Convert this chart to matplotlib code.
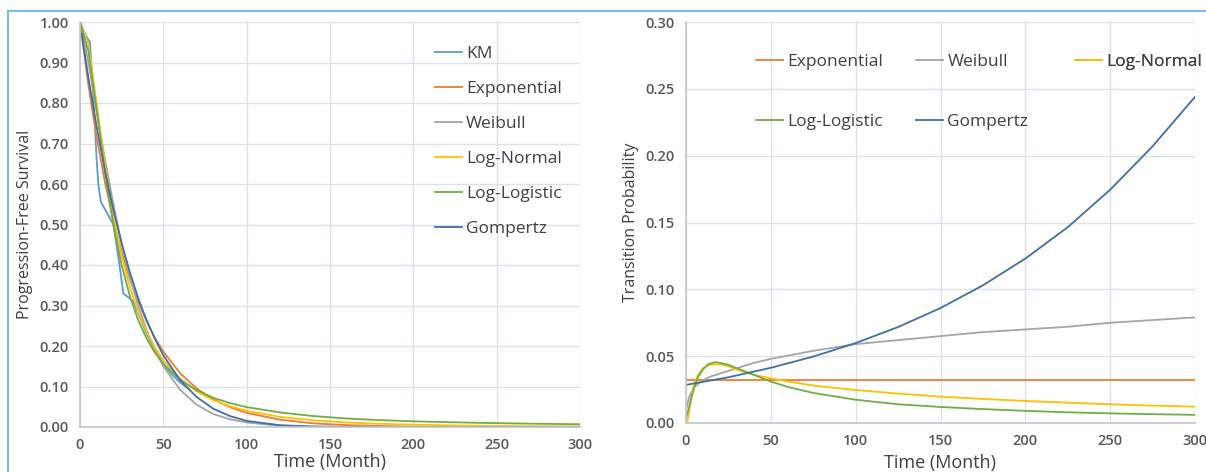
import matplotlib
matplotlib.use('Agg')
import matplotlib.pyplot as plt
from matplotlib.lines import Line2D

plt.rcParams['font.family'] = ['Open Sans', 'DejaVu Sans']

W, H = 1206, 472

# survival (left panel)
km_t = [0, 3, 6, 8.5, 10, 11, 12.5, 16, 20, 23, 26, 29, 32, 36, 40, 45, 50, 55, 60, 65]
km_s = [1.0, 0.97, 0.95, 0.78, 0.66, 0.60, 0.556, 0.53, 0.50, 0.42, 0.33, 0.32, 0.31,
        0.27, 0.23, 0.19, 0.155, 0.13, 0.11, 0.095]

t_s = [0, 5, 10, 15, 20, 25, 30, 35, 40, 45, 50, 60, 70, 80, 90, 100,
       120, 140, 160, 180, 200, 225, 250, 275, 300]
exp_s = [1.000, 0.845, 0.715, 0.604, 0.511, 0.432, 0.365, 0.309, 0.261, 0.220, 0.186,
         0.133, 0.095, 0.068, 0.049, 0.035, 0.018, 0.009, 0.0046, 0.0024, 0.0012,
         0.0005, 0.0002, 0.0001, 0.0]
weib_s = [1.000, 0.901, 0.779, 0.660, 0.551, 0.453, 0.369, 0.298, 0.239, 0.190, 0.150,
          0.092, 0.055, 0.032, 0.019, 0.011, 0.0033, 0.001, 0.0003, 0.0001, 0.0,
          0.0, 0.0, 0.0, 0.0]
lnorm_s = [1.000, 0.947, 0.798, 0.647, 0.522, 0.422, 0.344, 0.283, 0.235, 0.196, 0.165,
           0.119, 0.088, 0.066, 0.051, 0.040, 0.025, 0.0165, 0.0112, 0.0079, 0.0057,
           0.0038, 0.0027, 0.0019, 0.0014]
llog_s = [1.000, 0.928, 0.782, 0.629, 0.500, 0.399, 0.322, 0.263, 0.218, 0.183, 0.156,
          0.117, 0.091, 0.072, 0.059, 0.049, 0.036, 0.027, 0.021, 0.017, 0.014,
          0.0115, 0.0095, 0.008, 0.0068]
gomp_t = [1, 5, 10, 15, 20, 25, 30, 35, 40, 45, 50, 60, 70, 80, 90, 100,
          120, 140, 160, 180, 200, 225, 250, 275, 300]
gomp_s = [0.971, 0.863, 0.741, 0.632, 0.537, 0.453, 0.381, 0.317, 0.263, 0.217, 0.177,
          0.116, 0.074, 0.045, 0.027, 0.015, 0.0044, 0.0011, 0.0002, 0.0, 0.0,
          0.0, 0.0, 0.0, 0.0]

# transition probabilities (right panel)
exp_tp_t = [0, 300]
exp_tp = [0.0325, 0.0325]
weib_tp_t = [0, 2, 5, 10, 15, 20, 30, 40, 50, 75, 100, 125, 150, 175, 200, 225, 250, 275, 300]
weib_tp = [0.010, 0.020, 0.027, 0.032, 0.035, 0.037, 0.041, 0.045, 0.048, 0.054, 0.059,
           0.062, 0.065, 0.068, 0.070, 0.072, 0.075, 0.077, 0.079]
lnorm_tp_t = [0, 1, 2, 3, 4, 5, 7, 10, 14, 18, 22, 26, 30, 35, 40, 50, 60, 75, 100,
              125, 150, 175, 200, 225, 250, 275, 300]
lnorm_tp = [0.000, 0.002, 0.010, 0.018, 0.025, 0.030, 0.036, 0.041, 0.0435, 0.044, 0.0435,
            0.042, 0.040, 0.038, 0.036, 0.0335, 0.031, 0.028, 0.0247, 0.022, 0.0197,
            0.018, 0.0165, 0.0152, 0.014, 0.013, 0.0122]
llog_tp_t = [0, 1, 2, 3, 5, 7, 10, 13, 17, 20, 25, 30, 40, 50, 60, 75, 100, 125, 150,
             175, 200, 225, 250, 275, 300]
llog_tp = [0.004, 0.008, 0.013, 0.018, 0.027, 0.034, 0.040, 0.044, 0.0455, 0.045, 0.0435,
           0.041, 0.036, 0.031, 0.027, 0.0225, 0.0174, 0.014, 0.012, 0.0104, 0.0091,
           0.008, 0.0072, 0.0066, 0.0061]
gomp_tp_t = [0, 25, 50, 75, 100, 125, 150, 175, 200, 225, 250, 275, 300]
gomp_tp = [0.0285, 0.0342, 0.0413, 0.0497, 0.0598, 0.0718, 0.0860, 0.1030, 0.1230,
           0.1465, 0.1745, 0.2070, 0.2440]

colors = {'KM': '#5B9BD5', 'Exponential': '#ED7D31', 'Weibull': '#A5A5A5',
          'Log-Normal': '#FFC000', 'Log-Logistic': '#70AD47', 'Gompertz': '#3F6FA8'}
lw = 1.3
grid_c = '#DCE1EA'
spine_c = '#BFC6D2'
tick_c = '#595959'
lab_c = '#404040'
leg_fs = 12.5


def px(x, y):
    return (x / W, 1 - y / H)


fig = plt.figure(figsize=(W / 100, H / 100), dpi=100)
fig.add_artist(Line2D([8 / W, 1], [1 - 11 / H] * 2, color='#5DB3EA', lw=1.2))
fig.add_artist(Line2D([8 / W] * 2, [0, 1 - 11 / H], color='#5DB3EA', lw=1.2))

ax1 = fig.add_axes([80 / W, 1 - 427 / H, 500 / W, 405 / H])
ax2 = fig.add_axes([686 / W, 1 - 423 / H, 509 / W, 401 / H])


def style(ax, ymax, ystep, yfmt, xpad):
    ax.set_xlim(0, 300)
    ax.set_ylim(0, ymax)
    ax.set_xticks(range(0, 301, 50))
    n = int(round(ymax / ystep))
    ax.set_yticks([i * ystep for i in range(n + 1)])
    ax.set_yticklabels([yfmt.format(i * ystep) for i in range(n + 1)])
    ax.grid(True, color=grid_c, lw=1)
    ax.set_axisbelow(True)
    for s in ['top', 'right']:
        ax.spines[s].set_visible(False)
    for s in ['left', 'bottom']:
        ax.spines[s].set_color(spine_c)
        ax.spines[s].set_linewidth(1.2)
    ax.tick_params(length=0, labelsize=10.5, labelcolor=tick_c, pad=8)
    for lbl in ax.get_xticklabels() + ax.get_yticklabels():
        lbl.set_fontweight('semibold')
    ax.set_xlabel('Time (Month)', fontsize=13, color=lab_c, labelpad=xpad)


style(ax1, 1.0, 0.1, '{:.2f}', 1)
ax1.plot(km_t, km_s, color=colors['KM'], lw=lw, label='KM')
ax1.plot(t_s, exp_s, color=colors['Exponential'], lw=lw, label='Exponential')
ax1.plot(t_s, weib_s, color=colors['Weibull'], lw=lw, label='Weibull')
ax1.plot(t_s, lnorm_s, color=colors['Log-Normal'], lw=lw, label='Log-Normal')
ax1.plot(t_s, llog_s, color=colors['Log-Logistic'], lw=lw, label='Log-Logistic')
ax1.plot(gomp_t, gomp_s, color=colors['Gompertz'], lw=lw, label='Gompertz')
ax1.set_ylabel('Progression-Free Survival', fontsize=11.5, color=lab_c, labelpad=5)
ax1.legend(loc='upper left', bbox_to_anchor=px(435, 46), bbox_transform=fig.transFigure,
           frameon=False, fontsize=leg_fs, handlelength=1.55, handletextpad=0.25,
           labelspacing=1.08, borderpad=0, borderaxespad=0, labelcolor=lab_c)

style(ax2, 0.30, 0.05, '{:.2f}', 4)
h_exp, = ax2.plot(exp_tp_t, exp_tp, color=colors['Exponential'], lw=lw, label='Exponential')
h_wei, = ax2.plot(weib_tp_t, weib_tp, color=colors['Weibull'], lw=lw, label='Weibull')
h_ln, = ax2.plot(lnorm_tp_t, lnorm_tp, color=colors['Log-Normal'], lw=lw, label='Log-Normal')
h_ll, = ax2.plot(llog_tp_t, llog_tp, color=colors['Log-Logistic'], lw=lw, label='Log-Logistic')
h_go, = ax2.plot(gomp_tp_t, gomp_tp, color=colors['Gompertz'], lw=lw, label='Gompertz')
ax2.set_ylabel('Transition Probability', fontsize=11.5, color=lab_c, labelpad=5)

leg_kw = dict(loc='upper left', bbox_transform=fig.transFigure, frameon=False,
              fontsize=leg_fs, handlelength=1.55, handletextpad=0.25, labelspacing=2.5,
              borderpad=0, borderaxespad=0, labelcolor=lab_c)
for hs, x0 in [([h_exp, h_ll], 756), ([h_wei, h_go], 916), ([h_ln], 1075)]:
    lg = ax2.legend(handles=hs, bbox_to_anchor=px(x0, 54), **leg_kw)
    ax2.add_artist(lg)

fig.savefig('out.png', dpi=100)
